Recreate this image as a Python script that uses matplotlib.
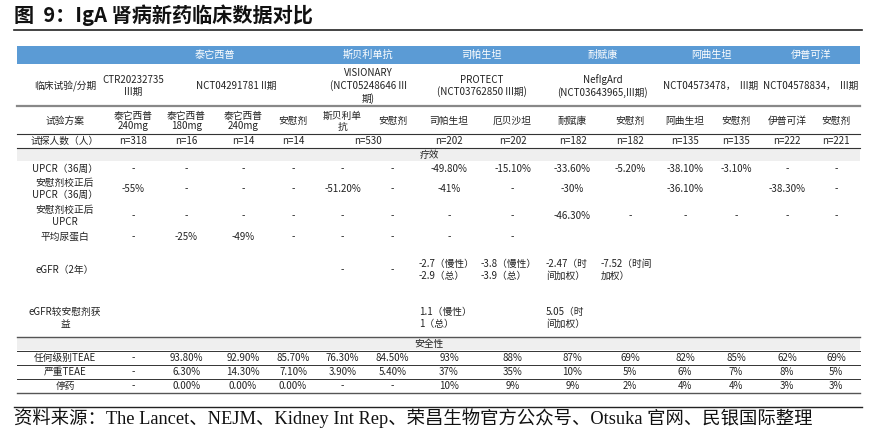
import matplotlib
matplotlib.use("Agg")
import matplotlib.pyplot as plt
from matplotlib.patches import Rectangle

plt.rcParams['font.family'] = ['Noto Sans CJK SC', 'DejaVu Sans']

title = "图  9：IgA 肾病新药临床数据对比"
source = "资料来源：The Lancet、NEJM、Kidney Int Rep、荣昌生物官方公众号、Otsuka 官网、民银国际整理"

drugs = ["泰它西普", "斯贝利单抗", "司帕生坦", "耐赋康", "阿曲生坦", "伊普可洋"]
drug_spans = [(1, 4), (5, 6), (7, 8), (9, 10), (11, 12), (13, 14)]
trials = ["CTR20232735\nIII期", "NCT04291781 II期", "VISIONARY\n(NCT05248646 III\n期)",
          "PROTECT\n(NCT03762850 III期)", "NefIgArd\n(NCT03643965,III期)",
          "NCT04573478，  III期", "NCT04578834，  III期"]
trial_spans = [(1, 1), (2, 4), (5, 6), (7, 8), (9, 10), (11, 12), (13, 14)]
arms = ["泰它西普\n240mg", "泰它西普\n180mg", "泰它西普\n240mg", "安慰剂", "斯贝利单\n抗", "安慰剂",
        "司帕生坦", "厄贝沙坦", "耐赋康", "安慰剂", "阿曲生坦", "安慰剂", "伊普可洋", "安慰剂"]
n_values = ["n=318", "n=16", "n=14", "n=14", "n=530", None, "n=202", "n=202", "n=182", "n=182",
            "n=135", "n=135", "n=222", "n=221"]
eff_labels = ["UPCR（36周）", "安慰剂校正后\nUPCR（36周）", "安慰剂校正后\nUPCR", "平均尿蛋白",
              "eGFR（2年）", "eGFR较安慰剂获\n益"]
upcr36 = ["-", "-", "-", "-", "-", "-", "-49.80%", "-15.10%", "-33.60%", "-5.20%", "-38.10%", "-3.10%", "-", "-"]
upcr36_adj = ["-55%", "-", "-", "-", "-51.20%", "-", "-41%", "-", "-30%", "", "-36.10%", "", "-38.30%", "-"]
upcr_adj = ["-", "-", "-", "-", "-", "-", "-", "-", "-46.30%", "-", "-", "-", "-", "-"]
protein = ["-", "-25%", "-49%", "-", "-", "-", "-", "-", "", "", "", "", "", ""]
egfr2 = ["", "", "", "", "-", "-", "-2.7（慢性）\n-2.9（总）", "-3.8（慢性）\n-3.9（总）",
         "-2.47（时\n间加权）", "-7.52（时间\n加权）", "", "", "", ""]
egfr_gain = ["", "", "", "", "", "", "1.1（慢性）\n1（总）", "", "5.05（时\n间加权）", "", "", "", "", ""]
saf_labels = ["任何级别TEAE", "严重TEAE", "停药"]
teae = ["-", "93.80%", "92.90%", "85.70%", "76.30%", "84.50%", "93%", "88%", "87%", "69%", "82%", "85%", "62%", "69%"]
sae = ["-", "6.30%", "14.30%", "7.10%", "3.90%", "5.40%", "37%", "35%", "10%", "5%", "6%", "7%", "8%", "5%"]
stop = ["-", "0.00%", "0.00%", "0.00%", "-", "-", "10%", "9%", "9%", "2%", "4%", "4%", "3%", "3%"]

W, H = 876, 433
fig = plt.figure(figsize=(W / 100, H / 100), dpi=100)
ax = fig.add_axes([0, 0, 1, 1])
ax.set_xlim(0, W); ax.set_ylim(H, 0); ax.axis('off')

edges = [17, 112, 155, 218, 268, 318, 367, 418, 480, 545, 600, 660, 710, 762, 812, 860]
cx = [(edges[i] + edges[i + 1]) / 2 for i in range(len(edges) - 1)]
cx[0] = 65
fs = 7.0
tc = '#222222'

def span_center(a, b):
    return (edges[a] + edges[b + 1]) / 2

ax.text(14, 15, title, fontsize=14.5, fontweight='bold', va='center', ha='left', color='#111')
ax.plot([14, 862], [30, 30], color='#222', lw=1.2)

L, R = edges[0], edges[-1]
ax.add_patch(Rectangle((L, 46), R - L, 18, color='#5b9bd5', lw=0))
for d, (a, b) in zip(drugs, drug_spans):
    ax.text(span_center(a, b), 55, d, fontsize=7.3, color='white', ha='center', va='center')

ax.text(cx[0], 86, "临床试验/分期", fontsize=fs, ha='center', va='center', color=tc)
for t, (a, b) in zip(trials, trial_spans):
    ax.text(span_center(a, b), 86, t, fontsize=fs, ha='center', va='center', color=tc, linespacing=1.2)
ax.plot([L, R], [106, 106], color='#888', lw=1.6)

ax.text(cx[0], 121, "试验方案", fontsize=fs, ha='center', va='center', color=tc)
for i, a in enumerate(arms):
    ax.text(cx[i + 1], 121, a, fontsize=fs, ha='center', va='center', color=tc, linespacing=1.1)
ax.plot([L, R], [134, 134], color='#333', lw=0.8)

ax.text(cx[0], 141, "试探人数（人）", fontsize=fs, ha='center', va='center', color=tc)
for i, n in enumerate(n_values):
    if n is None:
        continue
    x = span_center(5, 6) if n == "n=530" else cx[i + 1]
    ax.text(x, 141, n, fontsize=fs, ha='center', va='center', color=tc)
ax.plot([L, R], [148, 148], color='#333', lw=0.8)

ax.add_patch(Rectangle((L, 148), R - L, 13, color='#efefef', lw=0))
ax.text(span_center(7, 7) - 20, 155, "疗效", fontsize=fs, ha='center', va='center', color=tc)

eff_rows = [upcr36, upcr36_adj, upcr_adj, protein, egfr2, egfr_gain]
eff_y = [169, 189, 216, 237, 270, 318]
for lab, row, y in zip(eff_labels, eff_rows, eff_y):
    ax.text(cx[0], y, lab, fontsize=fs, ha='center', va='center', color=tc, linespacing=1.3)
    for i, v in enumerate(row):
        if not v:
            continue
        if "\n" in v:
            ax.text(edges[i + 1] + 1, y, v, fontsize=fs, ha='left', va='center', color=tc, linespacing=1.3)
        else:
            ax.text(cx[i + 1], y, v, fontsize=fs, ha='center', va='center', color=tc)
ax.plot([L, R], [337, 337], color='#555', lw=1.0)

ax.add_patch(Rectangle((L, 337), R - L, 13, color='#efefef', lw=0))
ax.text(span_center(7, 7) - 20, 344, "安全性", fontsize=fs, ha='center', va='center', color=tc)
for lab, row, y in zip(saf_labels, [teae, sae, stop], [358, 372, 386]):
    ax.text(cx[0], y, lab, fontsize=fs, ha='center', va='center', color=tc)
    for i, v in enumerate(row):
        ax.text(cx[i + 1], y, v, fontsize=fs, ha='center', va='center', color=tc)
for y in [351, 365, 379]:
    ax.plot([L, R], [y, y], color='#333', lw=0.7)
ax.plot([L, R], [393, 393], color='#555', lw=1.0)

ax.plot([14, 862], [407, 407], color='#222', lw=1.0)
ax.text(14, 418, source, fontsize=13.2, ha='left', va='center', color='#111',
        family=['Liberation Serif', 'Noto Sans CJK SC'])

fig.savefig("out.png", dpi=100)
